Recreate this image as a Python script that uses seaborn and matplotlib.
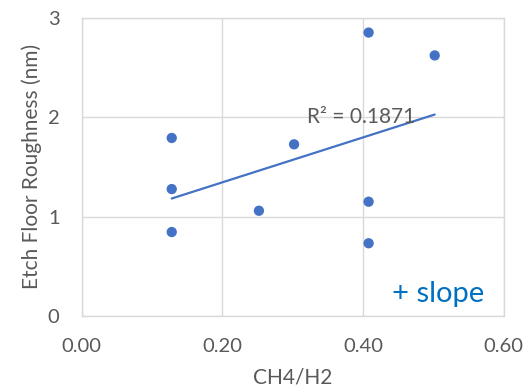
import numpy as np
import pandas as pd
import matplotlib
matplotlib.use("Agg")
import matplotlib.pyplot as plt
import seaborn as sns

# Data
ratio = [0.128, 0.128, 0.128, 0.252, 0.302, 0.408, 0.408, 0.408, 0.502]
roughness = [1.79, 1.276, 0.844, 1.058, 1.726, 2.85, 1.149, 0.731, 2.62]
x_ticks = [0.0, 0.2, 0.4, 0.6]
x_tick_labels = ["0.00", "0.20", "0.40", "0.60"]
y_ticks = [0, 1, 2, 3]
r2_label = "R² = 0.1871"
note_label = "+ slope"

df = pd.DataFrame({"CH4/H2": ratio, "Roughness": roughness})

sns.set_theme(style="white")
plt.rcParams["font.family"] = ["Lato", "DejaVu Sans"]

fig = plt.figure(figsize=(5.29, 3.92), dpi=100)
ax = fig.add_axes([0.1545, 0.194, 0.7975, 0.761])

blue = "#4472C4"
grey_text = "#595959"
grid = "#D9D9D9"

sns.regplot(data=df, x="CH4/H2", y="Roughness", ax=ax, ci=None, truncate=True,
            scatter_kws=dict(s=55, color=blue, edgecolor="none", alpha=1.0, zorder=3),
            line_kws=dict(color=blue, lw=1.6, zorder=2))

ax.set_xlim(0, 0.6)
ax.set_ylim(0, 3)
ax.set_xticks(x_ticks)
ax.set_xticklabels(x_tick_labels)
ax.set_yticks(y_ticks)
ax.grid(True, color=grid, lw=1.0, zorder=0)
ax.set_axisbelow(True)
for sp in ax.spines.values():
    sp.set_color(grid)
    sp.set_linewidth(1.0)
ax.tick_params(axis="both", length=0, labelsize=14.5, labelcolor=grey_text, pad=16)

ax.set_xlabel("CH4/H2", fontsize=15, color=grey_text, labelpad=9)
ax.set_ylabel("Etch Floor Roughness (nm)", fontsize=15, color=grey_text, labelpad=4)

ax.text(0.32, 1.94, r2_label, fontsize=15, color=grey_text, ha="left", va="baseline", zorder=4)
ax.text(0.573, 0.145, note_label, fontsize=21, color="#0070C0", ha="right", va="baseline")

fig.savefig("out.png", dpi=100)
